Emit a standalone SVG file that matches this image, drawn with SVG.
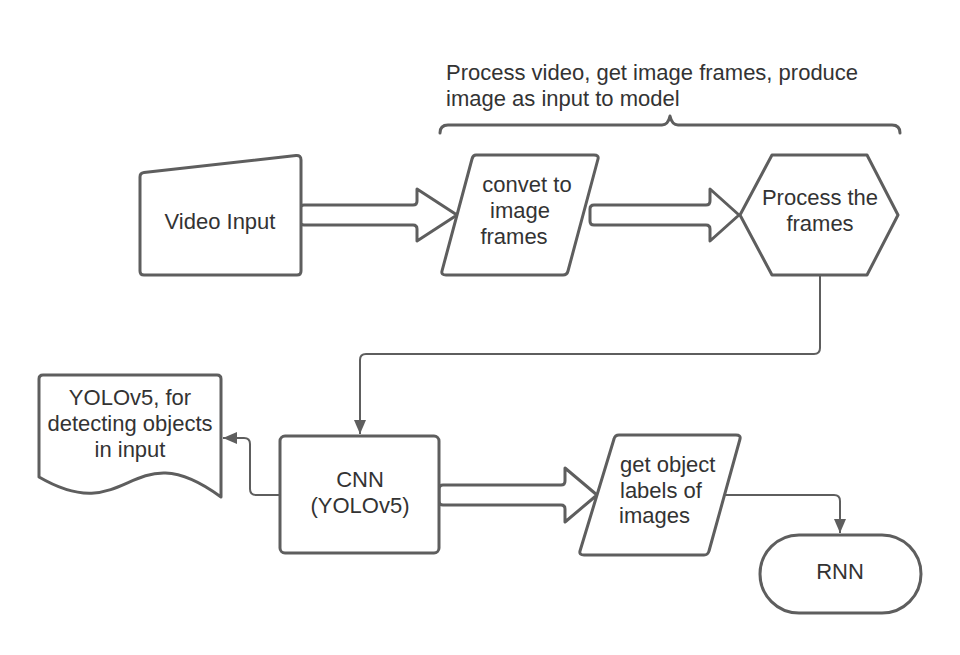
<svg xmlns="http://www.w3.org/2000/svg" width="960" height="655" viewBox="0 0 960 655">
<style>
.shape{fill:#ffffff;stroke:#5e5e5e;stroke-width:3;stroke-linejoin:round}
.conn{fill:none;stroke:#5e5e5e;stroke-width:2;stroke-linejoin:round}
.brace{fill:none;stroke:#5e5e5e;stroke-width:3;stroke-linecap:round;stroke-linejoin:round}
text{font-family:"Liberation Sans",Arial,sans-serif;font-size:22px;fill:#333333}
.c{text-anchor:middle}
</style>
<defs>
<marker id="ah" viewBox="0 0 14 12" refX="14" refY="6" markerWidth="14" markerHeight="12" markerUnits="userSpaceOnUse" orient="auto">
<path d="M0,0 L14,6 L0,12 Z" fill="#5e5e5e"/>
</marker>
</defs>
<rect width="960" height="655" fill="#ffffff"/>

<g id="annotation">
<text x="446" y="80">Process video, get image frames, produce</text>
<text x="446" y="106">image as input to model</text>
<path class="brace" d="M440,133 Q440,125 448,125 H662 Q668,125 670,116 Q672,125 678,125 H892 Q900,125 900,133"/>
</g>

<g id="connectors">
<path class="shape" d="M304,205 H413 Q417,205 417,201 V189 L457,215 L417,241 V229 Q417,225 413,225 H304 Q300,225 300,221 V209 Q300,205 304,205 Z"/>
<path class="shape" d="M594,205 H706 Q710,205 710,201 V189 L739,215 L710,241 V229 Q710,225 706,225 H594 Q590,225 590,221 V209 Q590,205 594,205 Z"/>
<path class="shape" d="M443,485 H561 Q565,485 565,481 V468 L597,495 L565,522 V509 Q565,505 561,505 H443 Q439,505 439,501 V489 Q439,485 443,485 Z"/>
<path class="conn" d="M820,275 V348 Q820,354 814,354 H366 Q360,354 360,360 V434" marker-end="url(#ah)"/>
<path class="conn" d="M280,495 H256 Q250,495 250,489 V444 Q250,438 244,438 H223" marker-end="url(#ah)"/>
<path class="conn" d="M724,495 H834 Q840,495 840,501 V533" marker-end="url(#ah)"/>
</g>

<g id="video-input">
<path class="shape" d="M140,177 Q140,173 144,172.5 L296,155.5 Q301,155 301,160 V271 Q301,275 297,275 H144 Q140,275 140,271 Z"/>
<text class="c" x="220" y="229">Video Input</text>
</g>

<g id="convert-frames">
<path class="shape" d="M476,155 H594 Q599,155 598,159 L568,271 Q567,275 563,275 H446 Q441,275 442,271 L472,159 Q473,155 476,155 Z"/>
<text class="c" x="527" y="192">convet to</text>
<text class="c" x="520" y="218">image</text>
<text class="c" x="514" y="244">frames</text>
</g>

<g id="process-frames">
<path class="shape" d="M740,215 L772,155 H867 L898,215 L867,275 H772 Z"/>
<text class="c" x="820" y="205">Process the</text>
<text class="c" x="820" y="231">frames</text>
</g>

<g id="document-note">
<path class="shape" d="M39,379 Q39,375 43,375 H217 Q221,375 221,379 V497 C130,430 130,530 39,477 Z"/>
<text class="c" x="130" y="405">YOLOv5, for</text>
<text class="c" x="130" y="431">detecting objects</text>
<text class="c" x="130" y="457">in input</text>
</g>

<g id="cnn">
<rect class="shape" x="280" y="436" width="159" height="117" rx="5"/>
<text class="c" x="360" y="487">CNN</text>
<text class="c" x="360" y="513">(YOLOv5)</text>
</g>

<g id="object-labels">
<path class="shape" d="M619,435 H736 Q741,435 740,439 L709,551 Q708,555 704,555 H584 Q579,555 580,551 L614,439 Q615,435 619,435 Z"/>
<text x="620" y="472">get object</text>
<text x="620" y="498">labels of</text>
<text x="619" y="523">images</text>
</g>

<g id="rnn">
<rect class="shape" x="760" y="535" width="161" height="78" rx="39"/>
<text class="c" x="840" y="579">RNN</text>
</g>
</svg>
